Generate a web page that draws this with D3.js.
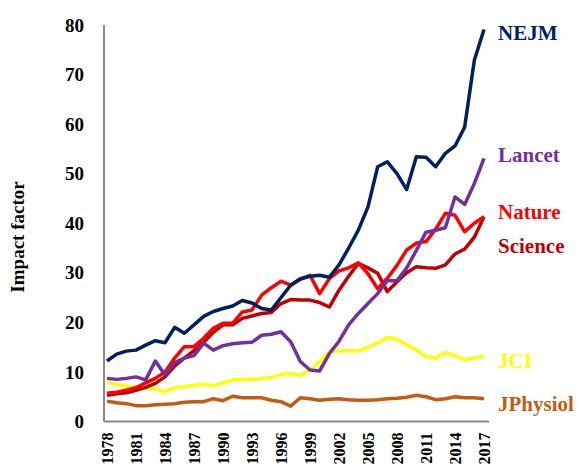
<!DOCTYPE html>
<html>
<head>
<meta charset="utf-8">
<script src="https://cdn.jsdelivr.net/npm/d3@7"></script>
<style>
  body { margin: 0; background: #fff; }
  svg { display: block; font-family: "Liberation Serif", "Times New Roman", serif; font-weight: bold; }
</style>
</head>
<body>
<svg width="581" height="468"></svg>
<script>
//years on the x axis
const years = d3.range(1978, 2018);
const yearTicks = d3.range(1978, 2018, 3);
const yTicks = [0, 10, 20, 30, 40, 50, 60, 70, 80];

//impact factor per journal
const nejm = [12.2, 13.6, 14.2, 14.4, 15.4, 16.3, 15.9, 19.0, 17.8, 19.5, 21.2, 22.2, 22.8, 23.3, 24.4, 23.9, 22.8, 22.5, 25.0, 27.5,
  28.8, 29.3, 29.5, 29.1, 31.6, 35.0, 38.6, 43.3, 51.4, 52.4, 50.0, 46.8, 53.4, 53.3, 51.4, 54.1, 55.6, 59.4, 72.9, 79.1];
const lancet = [8.7, 8.5, 8.7, 9.0, 8.4, 12.2, 9.4, 11.9, 12.8, 13.3, 15.8, 14.4, 15.3, 15.7, 15.9, 16.0, 17.4, 17.6, 18.1, 16.1,
  12.1, 10.4, 10.2, 13.7, 16.2, 19.5, 21.8, 23.8, 25.8, 28.4, 28.4, 31.0, 34.5, 38.2, 38.6, 39.1, 45.3, 43.8, 48.0, 53.1];
const nature = [5.7, 5.9, 6.3, 6.8, 7.8, 8.7, 10.0, 12.8, 15.1, 15.1, 16.8, 18.8, 19.8, 19.8, 22.1, 22.5, 25.5, 27.0, 28.3, 27.5,
  28.7, 29.5, 25.8, 28.8, 30.4, 31.0, 32.0, 29.8, 26.8, 28.9, 31.5, 34.6, 36.0, 36.3, 38.8, 42.0, 41.6, 38.3, 40.0, 41.3];
const science = [5.3, 5.6, 5.8, 6.3, 6.9, 7.7, 9.0, 11.2, 12.8, 14.3, 16.0, 18.0, 19.5, 19.5, 20.8, 21.3, 21.8, 22.0, 23.8, 24.6,
  24.5, 24.5, 24.0, 23.1, 26.5, 29.3, 31.9, 31.0, 29.9, 26.2, 28.2, 30.0, 31.2, 31.0, 30.9, 31.6, 33.8, 34.8, 37.2, 41.3];
const jci = [7.9, 7.5, 7.1, 6.9, 6.8, 6.6, 6.0, 6.9, 7.0, 7.3, 7.5, 7.2, 7.8, 8.4, 8.4, 8.5, 8.7, 8.9, 9.5, 9.7,
  9.3, 10.4, 12.1, 14.1, 14.2, 14.3, 14.2, 15.0, 15.8, 17.0, 16.6, 15.5, 14.4, 13.1, 12.8, 13.9, 13.3, 12.5, 12.8, 13.2];
const jphysiol = [4.1, 3.8, 3.6, 3.2, 3.2, 3.4, 3.5, 3.6, 3.9, 4.0, 4.0, 4.6, 4.2, 5.1, 4.8, 4.8, 4.8, 4.3, 4.0, 3.1,
  4.8, 4.6, 4.3, 4.5, 4.6, 4.4, 4.3, 4.3, 4.4, 4.6, 4.7, 4.9, 5.3, 5.0, 4.4, 4.6, 5.0, 4.8, 4.8, 4.6];

//drawing order: bottom first
const series = [
  { name: 'JPhysiol', values: jphysiol, color: '#C55A11', labelY: 404 },
  { name: 'JCI', values: jci, color: '#FFFF00', labelY: 361 },
  { name: 'Science', values: science, color: '#C00000', labelY: 246 },
  { name: 'Nature', values: nature, color: '#FF0000', labelY: 212 },
  { name: 'Lancet', values: lancet, color: '#7030A0', labelY: 155 },
  { name: 'NEJM', values: nejm, color: '#002060', labelY: 33 }
];

const svg = d3.select('svg');

const xScale = d3.scaleLinear().domain([1978, 2017]).range([107, 484]);
const yScale = d3.scaleLinear().domain([0, 80]).range([421.5, 25]);

//axis lines (gray, no ticks)
svg.append('line')
  .attr('x1', 104).attr('x2', 104)
  .attr('y1', 25).attr('y2', 421.5)
  .attr('stroke', '#888').attr('stroke-width', 2);
svg.append('line')
  .attr('x1', 104).attr('x2', 489)
  .attr('y1', 421.5).attr('y2', 421.5)
  .attr('stroke', '#888').attr('stroke-width', 2);

const yAxis = d3.axisLeft(yScale).tickValues(yTicks).tickSize(0).tickPadding(20);
const gy = svg.append('g')
  .attr('transform', 'translate(104,0)')
  .call(yAxis);
gy.select('.domain').remove();
gy.selectAll('text')
  .attr('font-family', '"Liberation Serif", serif')
  .attr('font-weight', 'bold')
  .attr('font-size', 19)
  .attr('fill', '#000');

const xAxis = d3.axisBottom(xScale).tickValues(yearTicks).tickFormat(d3.format('d')).tickSize(0);
const gx = svg.append('g')
  .attr('transform', 'translate(0,421.5)')
  .call(xAxis);
gx.select('.domain').remove();
gx.selectAll('text')
  .attr('font-family', '"Liberation Serif", serif')
  .attr('font-weight', 'bold')
  .attr('font-size', 16)
  .attr('fill', '#000')
  .attr('transform', 'rotate(-90)')
  .attr('text-anchor', 'end')
  .attr('x', -11)
  .attr('y', 0)
  .attr('dy', '0.35em');

//y axis title
svg.append('text')
  .attr('transform', 'translate(24,237) rotate(-90)')
  .attr('text-anchor', 'middle')
  .attr('font-size', 19)
  .text('Impact factor');

const line = d3.line()
  .x((d, i) => xScale(years[i]))
  .y(d => yScale(d));

svg.selectAll('.series')
  .data(series)
  .enter()
  .append('path')
  .attr('class', 'series')
  .attr('d', d => line(d.values))
  .attr('fill', 'none')
  .attr('stroke', d => d.color)
  .attr('stroke-width', 3.5)
  .attr('stroke-linejoin', 'round');

//labels at the right end
svg.selectAll('.label')
  .data(series)
  .enter()
  .append('text')
  .attr('class', 'label')
  .attr('x', 498)
  .attr('y', d => d.labelY)
  .attr('dy', '0.35em')
  .attr('font-size', 21)
  .attr('fill', d => d.color)
  .text(d => d.name);
</script>
</body>
</html>
